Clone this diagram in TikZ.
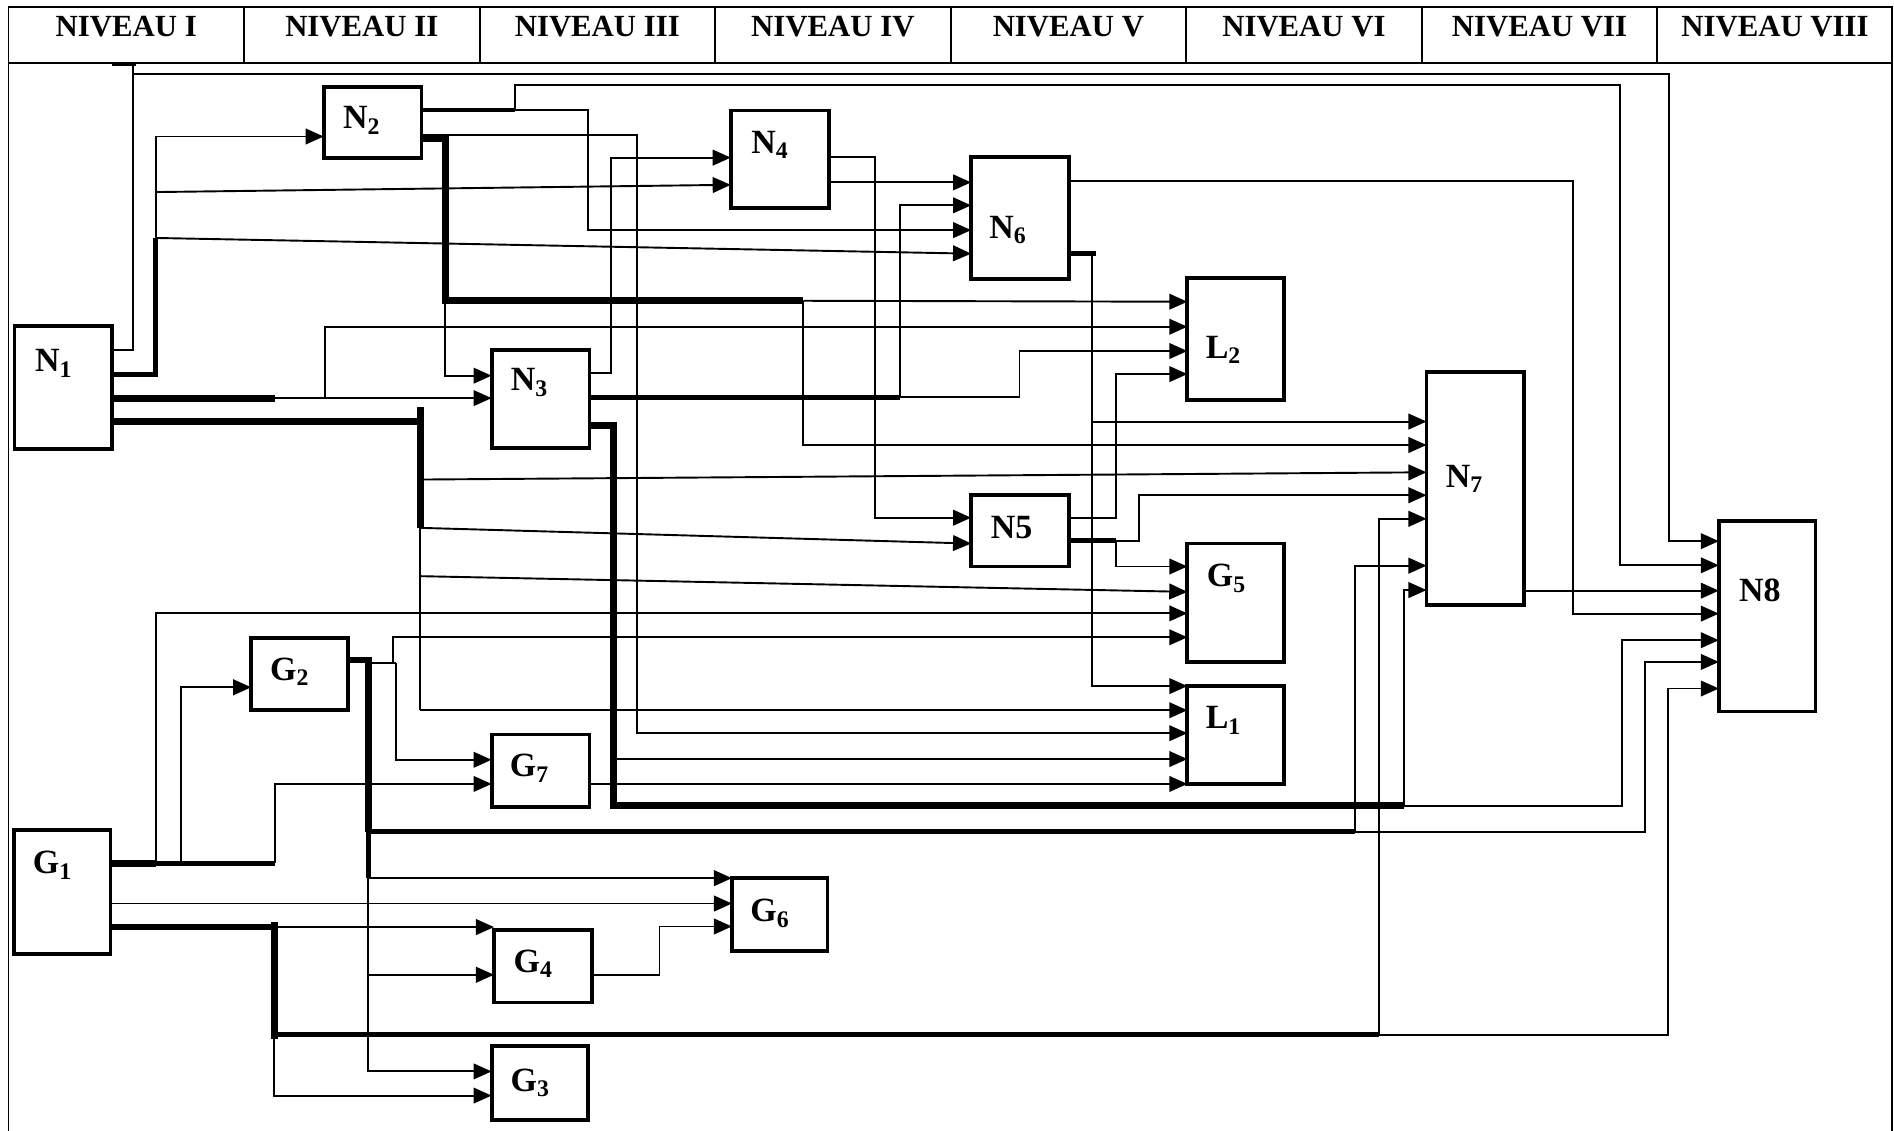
\documentclass[tikz,border=0pt]{standalone}
\usepackage{fontspec}
\setmainfont{Liberation Serif}
\usetikzlibrary{arrows.meta}
\begin{document}
\begin{tikzpicture}[x=0.02cm, y=-0.02cm,
	box/.style 2 args={draw, line width=1.8pt, inner sep=0pt, outer sep=0pt, minimum width=#1*0.02cm, minimum height=#2*0.02cm},
	lbl/.style={font=\bfseries\fontsize{16}{18}\selectfont, inner sep=0pt},
	hdr/.style={font=\bfseries\fontsize{14.5}{17}\selectfont},
	frm/.style={line width=0.9pt},
	wire/.style={line width=0.9pt},
	thk/.style={line width=2.2pt},
	vthk/.style={line width=3.2pt},
	arr/.style={wire, -{Triangle[length=0.3cm, width=0.26cm]}}]
	\useasboundingbox (0,0) rectangle (1568,936);
	% header
	\draw[frm] (7,936) |- (1566,5.5) -- (1566,936);
	\draw[frm] (7,52) -- (1566,52);
	\foreach \x in {202,397,592,787,982,1177,1372}
		\draw[frm] (\x,5.5) -- (\x,52);
	\foreach \r [count=\i] in {I,II,III,IV,V,VI,VII,VIII}
		\node[hdr] (h\i) at ({104.5+195*(\i-1)},22) {NIVEAU \r};
	% blocks
	\node[box={81}{102}, label={[lbl,shift={(-8,-20)}]center:N\textsubscript{1}}] (N1) at (52.5,321) {};
	\node[box={81}{59}, label={[lbl,shift={(-9,-2)}]center:N\textsubscript{2}}] (N2) at (308.5,101.5) {};
	\node[box={81}{81}, label={[lbl,shift={(-9,-14)}]center:N\textsubscript{3}}] (N3) at (447.5,330.5) {};
	\node[box={81}{81}, label={[lbl,shift={(-8,-12)}]center:N\textsubscript{4}}] (N4) at (645.5,132) {};
	\node[box={81}{59}, label={[lbl,shift={(-7,-3)}]center:N5}] (N5) at (844.5,439.5) {};
	\node[box={81}{101}, label={[lbl,shift={(-10,10)}]center:N\textsubscript{6}}] (N6) at (844.5,180.5) {};
	\node[box={81}{193}, label={[lbl,shift={(-9,-8)}]center:N\textsubscript{7}}] (N7) at (1221.5,404.5) {};
	\node[box={80}{158}, label={[lbl,shift={(-6,-21)}]center:N8}] (N8) at (1463,510) {};
	\node[box={80}{101}, label={[lbl,shift={(-10,9)}]center:L\textsubscript{2}}] (L2) at (1023,280.5) {};
	\node[box={80}{81}, label={[lbl,shift={(-10,-12)}]center:L\textsubscript{1}}] (L1) at (1023,608.5) {};
	\node[box={80}{103}, label={[lbl,shift={(-8,-22)}]center:G\textsubscript{1}}] (G1) at (51.5,738.5) {};
	\node[box={80}{60}, label={[lbl,shift={(-8,-2)}]center:G\textsubscript{2}}] (G2) at (248,558) {};
	\node[box={80}{61}, label={[lbl,shift={(-8,0)}]center:G\textsubscript{3}}] (G3) at (447,896.5) {};
	\node[box={81}{60}, label={[lbl,shift={(-8,-2)}]center:G\textsubscript{4}}] (G4) at (449.5,800) {};
	\node[box={80}{98}, label={[lbl,shift={(-7.5,-20)}]center:G\textsubscript{5}}] (G5) at (1023,499) {};
	\node[box={79}{60}, label={[lbl,shift={(-8,-1)}]center:G\textsubscript{6}}] (G6) at (645.5,757) {};
	\node[box={81}{60}, label={[lbl,shift={(-9,-2)}]center:G\textsubscript{7}}] (G7) at (447.5,638) {};
	% N1
	\draw[thk] (92.5,53) -- (113,53);
	\draw[wire] (N1.east |- 0,290) -| (110,52);
	\draw[arr] (110,61) -| (1382,448) -- (N8.west |- 0,448);
	\draw[thk] (N1.east |- 0,310) -| (129,197);
	\draw[arr] (129,197) |- (N2.west |- 0,113);
	\draw[arr] (129,159) -- (N4.west |- 0,153);
	\draw[arr] (129,197) -- (N6.west |- 0,210);
	\draw[vthk] (N1.east |- 0,329.6) -- (228,329.6);
	\draw[arr] (228,329.6) -- (N3.west |- 0,329.6);
	\draw[arr] (269,329.6) |- (L2.west |- 0,270.5);
	\draw[vthk] (N1.east |- 0,349) -- (348,349);
	\draw[vthk] (348,337) -- (348,437);
	\draw[wire] (348,437) -- (348,588);
	\draw[arr] (348,397) -- (N7.west |- 0,391);
	\draw[arr] (348,437) -- (N5.west |- 0,450);
	\draw[arr] (348,477) -- (G5.west |- 0,490);
	\draw[arr] (348,588) -- (L1.west |- 0,588);
	% N2
	\draw[thk] (N2.east |- 0,91) -- (426,91);
	\draw[arr] (426,91) |- (1341,70.4) |- (N8.west |- 0,468);
	\draw[arr] (426,91) -| (486.5,190.5) -- (N6.west |- 0,190.5);
	\draw[vthk] (N2.east |- 0,114.5) -- (370,114.5);
	\draw[vthk] (368.5,112) -- (368.5,249) -- (665,249);
	\draw[wire] (368.5,246.5) -- (511,246.5);
	\draw[arr] (665,249) -- (L2.west |- 0,249.8);
	\draw[arr] (665,249) |- (N7.west |- 0,368.4);
	\draw[arr] (N2.east |- 0,112) -| (527,607) -- (L1.west |- 0,607);
	\draw[arr] (368.5,249) |- (N3.west |- 0,311);
	% N3
	\draw[arr] (N3.east |- 0,309) -| (506,130.5) -- (N4.west |- 0,130.5);
	\draw[thk] (N3.east |- 0,329) -- (745,329);
	\draw[arr] (745,329) |- (N6.west |- 0,170);
	\draw[arr] (745,329) -| (844,290.6) -- (L2.west |- 0,290.6);
	\draw[vthk] (N3.east |- 0,352) -| (508,667) -- (1162,667);
	\draw[arr] (508,628.4) -- (L1.west |- 0,628.4);
	\draw[arr] (1162,667) |- (N7.west |- 0,488.5);
	\draw[arr] (1162,667) -| (1343,530) -- (N8.west |- 0,530);
	% N4
	\draw[arr] (N4.east |- 0,130) -| (724.6,428.6) -- (N5.west |- 0,428.6);
	\draw[arr] (N4.east |- 0,151) -- (N6.west |- 0,151);
	% N6
	\draw[arr] (N6.east |- 0,150) -| (1302,508) -- (N8.west |- 0,508);
	\draw[thk] (N6.east |- 0,210) -- (907,210);
	\draw[arr] (904,210) |- (L1.west |- 0,568);
	\draw[arr] (904,349) -- (N7.west |- 0,349);
	% N5
	\draw[arr] (N5.east |- 0,428.6) -| (924,309.7) -- (L2.west |- 0,309.7);
	\draw[thk] (N5.east |- 0,447.6) -- (924,447.6);
	\draw[arr] (924,447.6) -| (943,410) -- (N7.west |- 0,410);
	\draw[arr] (924,447.6) |- (G5.west |- 0,469);
	% N7
	\draw[arr] (N7.east |- 0,489) -- (N8.west |- 0,489);
	% G1
	\draw[vthk] (G1.east |- 0,714.6) -- (129.5,714.6);
	\draw[thk] (129.5,714.6) -- (228,714.6);
	\draw[arr] (129.5,714.6) |- (G5.west |- 0,507.8);
	\draw[arr] (149.6,714.6) |- (G2.west |- 0,569);
	\draw[arr] (228,714.6) |- (G7.west |- 0,649);
	\draw[arr] (G1.east |- 0,748) -- (G6.west |- 0,748);
	\draw[vthk] (G1.east |- 0,767.5) -- (227,767.5);
	\draw[vthk] (227,763) -- (227,860);
	\draw[arr] (227,767.5) -- (G4.west |- 0,767.5);
	\draw[thk] (227,856.7) -- (1142,856.7);
	\draw[arr] (1142,856.7) |- (N7.west |- 0,429.5);
	\draw[arr] (1142,856.7) -| (1381,570) -- (N8.west |- 0,570);
	\draw[arr] (227,860) |- (G3.west |- 0,907);
	% G2
	\draw[vthk] (G2.east |- 0,546.4) -- (306,546.4);
	\draw[vthk] (305,544) -- (305,688.6);
	\draw[thk] (305,688.6) -- (305,727);
	\draw[arr] (305,727) |- (G3.west |- 0,887);
	\draw[thk] (305,688.6) -- (1122,688.6);
	\draw[arr] (1122,688.6) |- (N7.west |- 0,468.3);
	\draw[arr] (1122,688.6) -| (1362,548) -- (N8.west |- 0,548);
	\draw[arr] (305,727) -- (G6.west |- 0,727);
	\draw[arr] (305,807) -- (G4.west |- 0,807);
	\draw[wire] (306,549) -- (328,549);
	\draw[arr] (325,549) |- (G5.west |- 0,527.6);
	\draw[arr] (328,549) |- (G7.west |- 0,629);
	% G4, G7
	\draw[arr] (G4.east |- 0,807) -| (546,767) -- (G6.west |- 0,767);
	\draw[arr] (G7.east |- 0,649) -- (L1.west |- 0,649);
\end{tikzpicture}
\end{document}
